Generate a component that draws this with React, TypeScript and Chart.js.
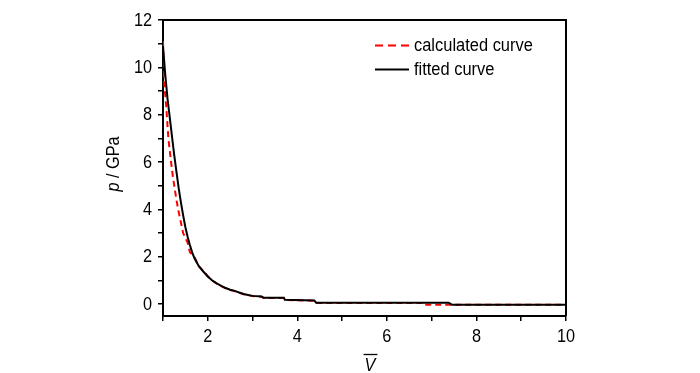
import React, { useEffect, useRef } from "react";
import { Chart, registerables } from "chart.js";
Chart.register(...registerables);

const fittedV = [1.0,1.05,1.1,1.15,1.2,1.25,1.3,1.35,1.4,1.45,1.5,1.55,1.6,1.65,1.7,1.8,1.9,2.0,2.1,2.2,2.3,2.4,2.5,2.6,2.7,2.8,2.9,3.0,3.2,3.25,3.7,3.72,4.38,4.42,7.38,7.45,10];
const fittedP = [10.9,9.7,8.7,7.9,7.1,6.3,5.6,4.9,4.3,3.75,3.25,2.85,2.5,2.2,1.95,1.6,1.38,1.17,1.0,0.88,0.77,0.68,0.61,0.56,0.49,0.43,0.39,0.35,0.32,0.27,0.27,0.19,0.15,0.06,0.06,-0.02,-0.02];

const calcV = [1.0,1.02,1.07,1.12,1.18,1.22,1.3,1.36,1.45,1.55,1.6,1.7,1.8,1.9,2.0,2.1,2.2,2.3,2.4,2.5,2.6,2.7,2.8,2.9,3.0,3.2,3.25,3.7,3.72,4.38,4.42,6.78,6.8,10];
const calcP = [11.1,9.5,8.4,7.0,6.0,5.4,4.4,3.8,3.0,2.6,2.2,2.0,1.6,1.4,1.18,1.0,0.87,0.76,0.67,0.6,0.55,0.48,0.42,0.38,0.34,0.31,0.26,0.26,0.18,0.14,0.05,0.05,-0.03,-0.03];

const xTicks = [1,2,3,4,5,6,7,8,9,10];
const yTicks = [0,1,2,3,4,5,6,7,8,9,10,11,12];
const xLabels = [2,4,6,8,10];
const yLabels = [0,2,4,6,8,10,12];
const legendLabels = ["calculated curve", "fitted curve"];

const FONT = "'Liberation Sans', Arial, sans-serif";
const SQUEEZE = 0.88;

function condensedText(ctx: any, text: string, x: number, y: number, align: "left" | "center" | "right", sq = SQUEEZE) {
  ctx.save();
  ctx.translate(x, y);
  ctx.scale(sq, 1);
  ctx.textAlign = align;
  ctx.fillText(text, 0, 0);
  ctx.restore();
}

export default function App() {
  const ref = useRef<HTMLCanvasElement>(null);
  useEffect(() => {
    const canvas = ref.current!;
    const extras = {
      id: "extras",
      afterDraw(chart: any) {
        const ctx = chart.ctx;
        const a = chart.chartArea;
        ctx.save();
        ctx.strokeStyle = "#000";
        ctx.lineWidth = 2;
        ctx.beginPath();
        ctx.moveTo(a.left, a.top);
        ctx.lineTo(a.right, a.top);
        ctx.lineTo(a.right, a.bottom);
        ctx.stroke();
        // tick labels
        ctx.fillStyle = "#000";
        ctx.font = `18.5px ${FONT}`;
        ctx.textBaseline = "middle";
        const ys = chart.scales.y;
        yLabels.forEach((v) => condensedText(ctx, String(v), 152, ys.getPixelForValue(v) + 0.5, "right"));
        const xs = chart.scales.x;
        xLabels.forEach((v) => condensedText(ctx, String(v), xs.getPixelForValue(v), 337, "center"));
        // legend
        ctx.lineWidth = 2;
        ctx.strokeStyle = "#ff0000";
        ctx.setLineDash([8, 5]);
        ctx.beginPath();
        ctx.moveTo(375, 45.5);
        ctx.lineTo(409, 45.5);
        ctx.stroke();
        ctx.setLineDash([]);
        ctx.strokeStyle = "#000";
        ctx.beginPath();
        ctx.moveTo(375, 69.5);
        ctx.lineTo(409, 69.5);
        ctx.stroke();
        ctx.fillStyle = "#000";
        ctx.font = `17.5px ${FONT}`;
        ctx.textBaseline = "alphabetic";
        condensedText(ctx, legendLabels[0], 414, 50.5, "left", 0.94);
        condensedText(ctx, legendLabels[1], 414, 75, "left", 0.94);
        // x title: V with overline
        ctx.font = `italic 18.5px ${FONT}`;
        ctx.textBaseline = "alphabetic";
        const vx = 370;
        condensedText(ctx, "V", vx, 371, "center");
        const w = ctx.measureText("V").width * SQUEEZE;
        ctx.lineWidth = 1.3;
        ctx.beginPath();
        ctx.moveTo(vx - w / 2 - 1, 354.5);
        ctx.lineTo(vx + w / 2 + 2, 354.5);
        ctx.stroke();
        // y title
        ctx.translate(119, 164);
        ctx.rotate(-Math.PI / 2);
        ctx.scale(SQUEEZE, 1);
        ctx.textBaseline = "alphabetic";
        ctx.textAlign = "left";
        ctx.font = `italic 18.5px ${FONT}`;
        const p1 = "p";
        const w1 = ctx.measureText(p1).width;
        ctx.font = `18.5px ${FONT}`;
        const p2 = " / GPa";
        const w2 = ctx.measureText(p2).width;
        const start = -(w1 + w2) / 2;
        ctx.font = `italic 18.5px ${FONT}`;
        ctx.fillText(p1, start, 0);
        ctx.font = `18.5px ${FONT}`;
        ctx.fillText(p2, start + w1, 0);
        ctx.restore();
      },
    };
    const chart = new Chart(canvas, {
      type: "scatter",
      data: {
        datasets: [
          {
            label: legendLabels[1],
            data: fittedV.map((v, i) => ({ x: v, y: fittedP[i] })),
            showLine: true,
            borderColor: "#000",
            borderWidth: 2,
            pointRadius: 0,
            tension: 0,
          },
          {
            label: legendLabels[0],
            data: calcV.map((v, i) => ({ x: v, y: calcP[i] })),
            showLine: true,
            borderColor: "#ff0000",
            borderWidth: 2,
            borderDash: [6, 4],
            pointRadius: 0,
            tension: 0,
          },
        ],
      },
      options: {
        animation: false,
        responsive: false,
        layout: { padding: { top: 20, right: 134, left: 0, bottom: 0 } },
        plugins: { legend: { display: false }, tooltip: { enabled: false } },
        scales: {
          x: {
            type: "linear",
            min: 1,
            max: 10,
            afterBuildTicks: (s: any) => { s.ticks = xTicks.map((v) => ({ value: v })); },
            afterFit: (s: any) => { s.height = 57; },
            border: { color: "#000", width: 2 },
            grid: { drawOnChartArea: false, color: "#000", tickLength: 5, lineWidth: 1.5 },
            ticks: { display: false },
          },
          y: {
            type: "linear",
            min: -0.5,
            max: 12,
            afterBuildTicks: (s: any) => { s.ticks = yTicks.map((v) => ({ value: v })); },
            afterFit: (s: any) => { s.width = 163; },
            border: { color: "#000", width: 2 },
            grid: { drawOnChartArea: false, color: "#000", tickLength: 5, lineWidth: 1.5 },
            ticks: { display: false },
          },
        },
      },
      plugins: [extras],
    });
    return () => chart.destroy();
  }, []);
  return (
    <div style={{ position: "fixed", left: 0, top: 0, width: 700, height: 373, background: "#fff" }}>
      <canvas ref={ref} width={700} height={373} style={{ display: "block" }} />
    </div>
  );
}
